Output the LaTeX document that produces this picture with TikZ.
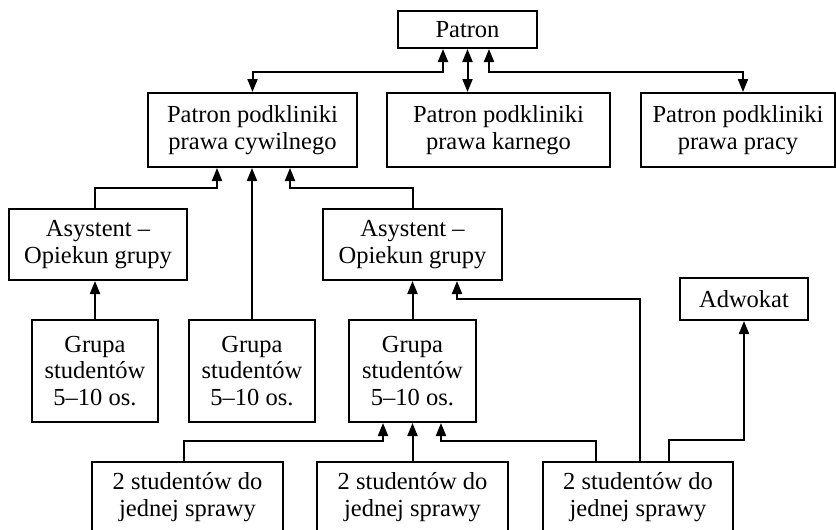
\documentclass[tikz,border=0pt]{standalone}
\usepackage{fontspec}
\setmainfont{Liberation Serif}
\usetikzlibrary{arrows.meta}
\def\tl{6.5pt}
\def\tw{5pt}

\begin{document}
\begin{tikzpicture}[x=0.5pt,y=-0.5pt,line width=1pt,
  box/.style={draw,align=center,inner sep=0pt,font=\fontsize{12.25}{13.35}\selectfont},
  up/.style={-{Triangle[length=\tl,width=\tw]}},
  both/.style={{Triangle[length=\tl,width=\tw]}-{Triangle[length=\tl,width=\tw]}}]
\useasboundingbox (0,0) rectangle (836,530);

\node[box,minimum width=69.5pt,minimum height=18.5pt] (patron) at (467.5,29.5) {Patron};
\node[box,minimum width=104.5pt,minimum height=37pt] (cyw) at (252.5,130) {Patron podkliniki\\prawa cywilnego};
\node[box,minimum width=111.5pt,minimum height=37pt] (karn) at (498.5,130) {Patron podkliniki\\prawa karnego};
\node[box,minimum width=97pt,minimum height=37pt] (prac) at (738,130) {Patron podkliniki\\prawa pracy};

\node[box,minimum width=89pt,minimum height=35.5pt] (asys1) at (98,244.5) {Asystent –\\Opiekun grupy};
\node[box,minimum width=89.5pt,minimum height=35.5pt] (asys2) at (412.5,244.5) {Asystent –\\Opiekun grupy};
\node[box,minimum width=64pt,minimum height=21pt] (adw) at (744,299) {Adwokat};

\node[box,minimum width=63pt,minimum height=51pt] (grupa1) at (95,371) {Grupa\\studentów\\5–10 os.};
\node[box,minimum width=63pt,minimum height=51pt] (grupa2) at (252,371) {Grupa\\studentów\\5–10 os.};
\node[box,minimum width=63.5pt,minimum height=51pt] (grupa3) at (412.5,371) {Grupa\\studentów\\5–10 os.};

\node[box,minimum width=95.5pt,minimum height=35pt] (spr1) at (187.5,497) {2 studentów do\\jednej sprawy};
\node[box,minimum width=95.5pt,minimum height=35pt] (spr2) at (412.5,497) {2 studentów do\\jednej sprawy};
\node[box,minimum width=95pt,minimum height=35pt] (spr3) at (638,497) {2 studentów do\\jednej sprawy};

% patron and the three subclinics
\draw[both] ([xshift=-12.25pt]patron.south) -- ++(0,23) -| (cyw.north);
\draw[both] (patron.south) -- (patron.south |- karn.north);
\draw[both] ([xshift=10.75pt]patron.south) -- ++(0,23) -| ([xshift=2.5pt]prac.north);

% civil law subclinic
\draw[up] ([xshift=-1.5pt]asys1.north) -- ++(0,-20) -| ([xshift=-17.75pt]cyw.south);
\draw[up] (grupa2.north) -- (grupa2.north |- cyw.south);
\draw[up] (asys2.north) -- ++(0,-20) -| ([xshift=18.75pt]cyw.south);
\draw[up] (grupa1.north) -- (grupa1.north |- asys1.south);
\draw[up] (grupa3.north) -- (asys2.south);

% pairs of students
\draw[up] ([xshift=-1.75pt]spr1.north) -- ++(0,-20) -| ([xshift=-14.75pt]grupa3.south);
\draw[up] (spr2.north) -- (grupa3.south);
\draw[up] ([xshift=-21pt]spr3.north) -- ++(0,-20) -| ([xshift=14.25pt]grupa3.south);
\draw[up] ([xshift=1pt]spr3.north) -- ++(0,-162) -| ([xshift=22.25pt]asys2.south);
\draw[up] ([xshift=15.5pt]spr3.north) -- ++(0,-21) -| (adw.south);
\end{tikzpicture}
\end{document}
